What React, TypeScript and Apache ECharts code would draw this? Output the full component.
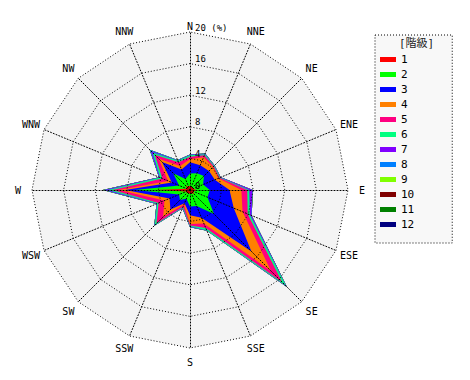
import React, { useEffect, useRef } from 'react';
import * as echarts from 'echarts';

// 16 wind directions, clockwise from north
const directions = ['N', 'NNE', 'NE', 'ENE', 'E', 'ESE', 'SE', 'SSE', 'S', 'SSW', 'SW', 'WSW', 'W', 'WNW', 'NW', 'NNW'];
const classNames = ['1', '2', '3', '4', '5', '6', '7', '8', '9', '10', '11', '12'];
const classColors = ['#ff0000', '#00ff00', '#0000ff', '#ff8000', '#ff0080', '#00ff80', '#8000ff', '#0080ff', '#80ff00', '#800000', '#008000', '#000080'];

// frequency (%) per class, per direction (N, NNE, ... NNW)
const class1 = [0.6, 0.4, 0.5, 0.4, 0.8, 0.5, 0.7, 0.4, 0.5, 0.4, 0.6, 0.5, 4.5, 0.4, 0.8, 0.4];
const class2 = [1.5, 1.9, 2.0, 1.4, 1.7, 1.9, 3.6, 1.8, 1.6, 0.8, 1.2, 1.0, 2.5, 1.1, 2.2, 1.1];
const class3 = [1.4, 1.1, 0.9, 1.6, 2.5, 3.6, 6.7, 1.6, 1.1, 0.6, 1.7, 1.3, 1.2, 1.0, 2.0, 1.3];
const class4 = [0.4, 1.1, 0.7, 0.5, 1.5, 1.2, 3.5, 0.8, 1.1, 0.2, 1.3, 0.7, 0.8, 0.5, 0.6, 0.5];
const class5 = [0.3, 0.25, 0.15, 0.15, 0.75, 0.7, 2.0, 0.6, 0.2, 0.3, 1.2, 0.8, 0.8, 0.8, 0.7, 0.5];
const class6 = [0.2, 0.15, 0.1, 0.1, 0.25, 0.3, 0.7, 0.3, 0.1, 0.1, 0.3, 0.2, 0.6, 0.3, 0.4, 0.2];
const class7 = [0.05, 0.05, 0.05, 0.05, 0.4, 0.2, 0.1, 0.05, 0.05, 0.05, 0.05, 0.05, 0.4, 0.1, 0.3, 0.05];
const class8 = [0.05, 0.05, 0, 0, 0.05, 0.05, 0.05, 0.05, 0.05, 0.05, 0.05, 0.05, 0.2, 0.05, 0.2, 0.05];
const class9 = [0, 0, 0, 0, 0.02, 0, 0, 0, 0, 0, 0, 0, 0.03, 0, 0.02, 0];
const class10 = [0, 0, 0, 0, 0, 0, 0, 0, 0, 0, 0, 0, 0.02, 0, 0, 0];
const class11 = [0, 0, 0, 0, 0, 0, 0, 0, 0, 0, 0, 0, 0.01, 0, 0, 0];
const class12 = [0, 0, 0, 0, 0, 0, 0, 0, 0, 0, 0, 0, 0.01, 0, 0, 0];
const classValues = [class1, class2, class3, class4, class5, class6, class7, class8, class9, class10, class11, class12];

const rMax = 20;
const tickStep = 4;

const FONT = "'DejaVu Sans Mono', monospace";

export default function App() {
  const ref = useRef<HTMLDivElement>(null);
  useEffect(() => {
    document.body.style.margin = '0';
    if (!ref.current) return;
    const chart = echarts.init(ref.current, null, { renderer: 'svg' });

    // radar indicators run counter-clockwise; reorder so directions go clockwise
    const order = [0];
    for (let i = directions.length - 1; i >= 1; i--) order.push(i);

    // cumulative (stacked) values
    const cumulative: number[][] = [];
    let running = directions.map(() => 0);
    classValues.forEach((vals) => {
      running = running.map((s, i) => s + vals[i]);
      cumulative.push(running.slice());
    });

    const indicatorsBase = order.map((d) => ({
      name: directions[d],
      min: 0,
      max: rMax,
      nameGap: d === 0 ? 6 : 14,
    }));
    const indicatorsOverlay = order.map((d) => ({
      name: directions[d],
      min: 0,
      max: rMax,
      axisLabel: d === 0 ? { show: true } : { show: false },
    }));

    const dotted = { color: '#000', width: 1, type: [1, 2] as any };

    const seriesData = [];
    for (let k = classNames.length - 1; k >= 0; k--) {
      seriesData.push({
        name: classNames[k],
        value: order.map((d) => +cumulative[k][d].toFixed(3)),
        symbol: 'none',
        itemStyle: { color: classColors[k] },
        lineStyle: { color: classColors[k], width: 0 },
        areaStyle: { color: classColors[k], opacity: 1 },
      });
    }

    chart.setOption({
      animation: false,
      title: {
        text: '[階級]',
        left: 399,
        top: 38,
        padding: 0,
        textStyle: { fontSize: 11, fontWeight: 'normal', color: '#222', fontFamily: "'DejaVu Sans Mono', 'Noto Sans CJK JP', monospace" },
      },
      legend: {
        data: classNames,
        orient: 'vertical',
        left: 375,
        top: 35,
        icon: 'rect',
        itemWidth: 16,
        itemHeight: 5,
        itemGap: 2,
        padding: [18, 38, 12, 5],
        backgroundColor: '#f8f8f8',
        borderColor: '#000',
        borderWidth: 1,
        borderType: [1, 2],
        selectedMode: false,
        textStyle: { fontFamily: FONT, fontSize: 11, color: '#000', lineHeight: 13 },
      },
      radar: [
        {
          center: [190, 190],
          radius: 158,
          startAngle: 90,
          shape: 'polygon',
          splitNumber: rMax / tickStep,
          indicator: indicatorsBase,
          axisName: { color: '#000', fontFamily: FONT, fontSize: 10, align: 'center', verticalAlign: 'middle', padding: [3, 0, 0, 0] },
          nameGap: 14,
          splitArea: { show: true, areaStyle: { color: ['#f4f4f4'] } },
          splitLine: { show: false },
          axisLine: { show: false },
          axisTick: { show: false },
          axisLabel: { show: false },
          z: 0,
        },
        {
          center: [190, 190],
          radius: 158,
          startAngle: 90,
          shape: 'polygon',
          splitNumber: rMax / tickStep,
          indicator: indicatorsOverlay,
          axisName: { show: false },
          splitArea: { show: false },
          splitLine: { show: true, lineStyle: dotted },
          axisLine: { show: true, lineStyle: dotted },
          axisTick: { show: false },
          axisLabel: {
            show: false,
            color: '#000',
            fontFamily: FONT,
            fontSize: 9,
            align: 'left',
            verticalAlign: 'bottom',
            margin: -5,
            formatter: (v: number) => (v === rMax ? `${v} (%)` : `${v}`),
          },
          z: 3,
        },
      ],
      series: [
        {
          type: 'radar',
          radarIndex: 0,
          z: 2,
          data: seriesData,
        },
      ],
    });
    return () => chart.dispose();
  }, []);
  return <div ref={ref} style={{ width: 470, height: 380 }} />;
}
